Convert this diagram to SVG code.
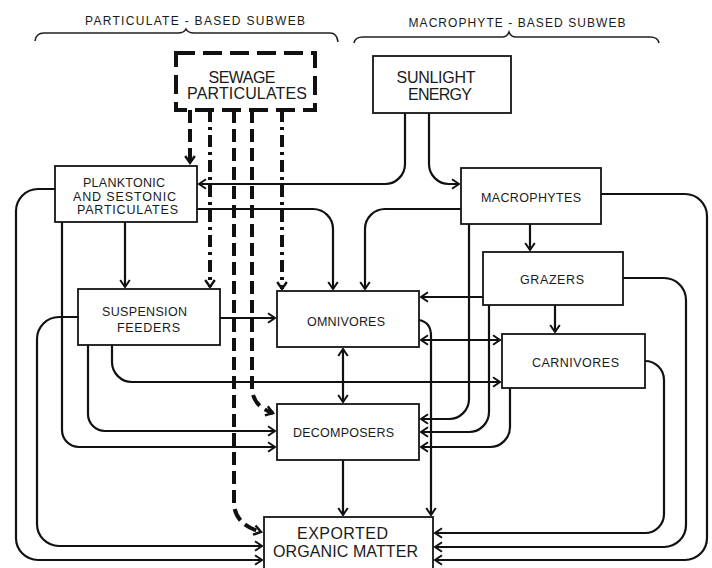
<svg xmlns="http://www.w3.org/2000/svg" width="712" height="568" viewBox="0 0 712 568">
<defs>
<style>
.box{fill:#fff;stroke:#151515;stroke-width:1.8}
.t{font-family:"Liberation Sans",Arial,sans-serif;font-size:12.5px;fill:#1a1a1a;text-anchor:middle}
.big{font-size:16px}
.hd{font-size:12px}
.c{fill:none;stroke:#111;stroke-width:2.2}
.d{fill:none;stroke:#111;stroke-width:4;stroke-dasharray:13 6}
.dd{fill:none;stroke:#111;stroke-width:4;stroke-dasharray:12 5 3 5}
.br{fill:none;stroke:#222;stroke-width:1.6}
</style>
<marker id="a" viewBox="-10 -7 13 14" refX="0" refY="0" markerWidth="13" markerHeight="14" orient="auto-start-reverse" markerUnits="userSpaceOnUse">
<path d="M-7,-4.8 L0,0 L-7,4.8" fill="none" stroke="#111" stroke-width="2"/>
</marker>
<marker id="ad" viewBox="-10 -7 13 14" refX="0" refY="0" markerWidth="13" markerHeight="14" orient="auto" markerUnits="userSpaceOnUse">
<path d="M-7,-4.8 L0,0 L-7,4.8" fill="none" stroke="#111" stroke-width="2.4"/>
</marker>
</defs>
<rect width="712" height="568" fill="#fff"/>

<g id="headers">
<text class="t hd" x="195" y="25" textLength="220" lengthAdjust="spacing">PARTICULATE - BASED SUBWEB</text>
<path class="br" d="M35,41 Q36,33 44,33 H178 Q184,33 186,29 Q188,33 194,33 H330 Q337,33 338,42"/>
<text class="t hd" x="517" y="27" textLength="217" lengthAdjust="spacing">MACROPHYTE - BASED SUBWEB</text>
<path class="br" d="M354,43 Q355,37 363,37 H502 Q507,37 509,32 Q511,37 516,37 H650 Q658,37 659,43"/>
</g>

<g id="connectors">
<!-- sewage dashed -->
<path class="d" d="M190,110 V163" marker-end="url(#ad)"/>
<path class="dd" d="M210,110 V287" marker-end="url(#ad)"/>
<path class="d" d="M234,110 V505 Q236,525 261,532" marker-end="url(#ad)"/>
<path class="d" d="M252,110 V390 Q254,407 273,413" marker-end="url(#ad)"/>
<path class="dd" d="M282,110 V289" marker-end="url(#ad)"/>
<!-- sunlight -->
<path class="c" d="M405,113 V164 A20,20 0 0 1 385,184 H199" marker-end="url(#a)"/>
<path class="c" d="M429,113 V164 A20,20 0 0 0 449,184 H459" marker-end="url(#a)"/>
<!-- planktonic -->
<path class="c" d="M125,222 V287" marker-end="url(#a)"/>
<path class="c" d="M197,209 H313 A20,20 0 0 1 333,229 V289" marker-end="url(#a)"/>
<path class="c" d="M55,189 H38 A22,22 0 0 0 16,211 V538 A22,22 0 0 0 38,560 H262" marker-end="url(#a)"/>
<path class="c" d="M62,222 V430 A17,17 0 0 0 79,447 H275" marker-end="url(#a)"/>
<!-- suspension feeders -->
<path class="c" d="M78,317 H59 A22,22 0 0 0 37,339 V524 A22,22 0 0 0 59,546 H262" marker-end="url(#a)"/>
<path class="c" d="M220,318 H275" marker-end="url(#a)"/>
<path class="c" d="M88,345 V414 A17,17 0 0 0 105,431 H275" marker-end="url(#a)"/>
<path class="c" d="M112,345 V362 A20,20 0 0 0 132,382 H500" marker-end="url(#a)"/>
<!-- macrophytes -->
<path class="c" d="M461,209 H385 A20,20 0 0 0 365,229 V289" marker-end="url(#a)"/>
<path class="c" d="M530,224 V250" marker-end="url(#a)"/>
<path class="c" d="M469,224 V399 A20,20 0 0 1 449,419 H421" marker-end="url(#a)"/>
<path class="c" d="M601,194 H685 A22,22 0 0 1 707,216 V538 A22,22 0 0 1 685,560 H435" marker-end="url(#a)"/>
<!-- grazers -->
<path class="c" d="M483,297 H421" marker-end="url(#a)"/>
<path class="c" d="M555,305 V332" marker-end="url(#a)"/>
<path class="c" d="M489,305 V412 A20,20 0 0 1 469,432 H421" marker-end="url(#a)"/>
<path class="c" d="M623,278 H664 A22,22 0 0 1 686,300 V525 A22,22 0 0 1 664,547 H435" marker-end="url(#a)"/>
<!-- carnivores -->
<path class="c" d="M645,361 A19,19 0 0 1 664,380 V514 A19,19 0 0 1 645,533 H435" marker-end="url(#a)"/>
<path class="c" d="M510,388 V427 A20,20 0 0 1 490,447 H421" marker-end="url(#a)"/>
<!-- omnivores -->
<path class="c" d="M421,340 H500" marker-start="url(#a)" marker-end="url(#a)"/>
<path class="c" d="M343,349 V402" marker-start="url(#a)" marker-end="url(#a)"/>
<path class="c" d="M419,320 Q431,322 431,336 V515" marker-end="url(#a)"/>
<!-- decomposers -->
<path class="c" d="M343,460 V515" marker-end="url(#a)"/>
</g>

<g id="sewage">
<rect x="176" y="53" width="139" height="57" fill="none" stroke="#111" stroke-width="4" stroke-dasharray="19 8"/>
<text class="t big" x="242" y="83" textLength="67" lengthAdjust="spacing">SEWAGE</text>
<text class="t big" x="247" y="99" textLength="120" lengthAdjust="spacing">PARTICULATES</text>
</g>
<g id="sunlight">
<rect class="box" x="373" y="56" width="138" height="57"/>
<text class="t big" x="436" y="83" textLength="79" lengthAdjust="spacing">SUNLIGHT</text>
<text class="t big" x="440" y="100" textLength="64" lengthAdjust="spacing">ENERGY</text>
</g>
<g id="planktonic">
<rect class="box" x="55" y="166" width="142" height="56"/>
<text class="t" x="124" y="187" textLength="82" lengthAdjust="spacing">PLANKTONIC</text>
<text class="t" x="124.5" y="201" textLength="103" lengthAdjust="spacing">AND SESTONIC</text>
<text class="t" x="127.5" y="214" textLength="101" lengthAdjust="spacing">PARTICULATES</text>
</g>
<g id="macrophytes">
<rect class="box" x="461" y="168" width="140" height="56"/>
<text class="t" x="531" y="202" textLength="100" lengthAdjust="spacing">MACROPHYTES</text>
</g>
<g id="grazers">
<rect class="box" x="483" y="252" width="140" height="53"/>
<text class="t" x="552" y="284" textLength="64" lengthAdjust="spacing">GRAZERS</text>
</g>
<g id="suspension">
<rect class="box" x="78" y="289" width="142" height="56"/>
<text class="t" x="144.5" y="316" textLength="85" lengthAdjust="spacing">SUSPENSION</text>
<text class="t" x="148.5" y="332" textLength="63" lengthAdjust="spacing">FEEDERS</text>
</g>
<g id="omnivores">
<rect class="box" x="277" y="291" width="142" height="56"/>
<text class="t" x="346" y="326" textLength="78" lengthAdjust="spacing">OMNIVORES</text>
</g>
<g id="carnivores">
<rect class="box" x="502" y="334" width="143" height="54"/>
<text class="t" x="575.5" y="367" textLength="87" lengthAdjust="spacing">CARNIVORES</text>
</g>
<g id="decomposers">
<rect class="box" x="277" y="404" width="142" height="56"/>
<text class="t" x="343.5" y="437" textLength="101" lengthAdjust="spacing">DECOMPOSERS</text>
</g>
<g id="exported">
<rect class="box" x="264" y="517" width="169" height="60"/>
<text class="t big" x="342.5" y="539" textLength="91" lengthAdjust="spacing">EXPORTED</text>
<text class="t big" x="345.5" y="557" textLength="145" lengthAdjust="spacing">ORGANIC MATTER</text>
</g>
</svg>
